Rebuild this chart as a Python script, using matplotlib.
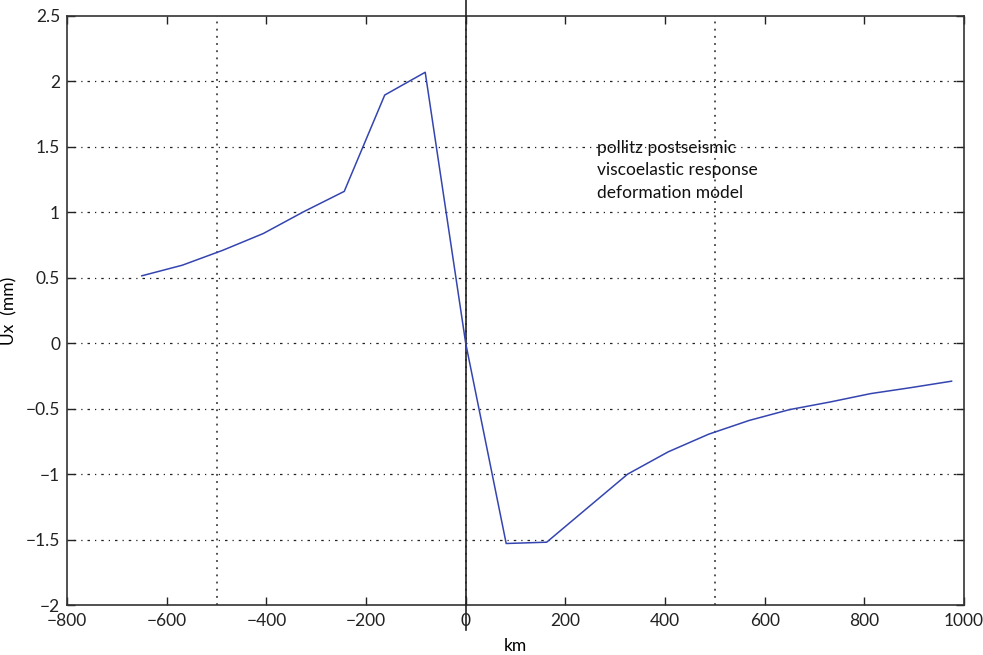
import numpy as np
import matplotlib
matplotlib.use("Agg")
import matplotlib.pyplot as plt

# distance along profile (km) and modelled horizontal displacement (mm)
km = [-650, -568.75, -487.5, -406.25, -325, -243.75, -162.5, -81.25, 0,
      81.25, 162.5, 243.75, 325, 406.25, 487.5, 568.75, 650, 731.25,
      812.5, 893.75, 975]
ux = [0.515, 0.596, 0.71, 0.838, 1.005, 1.16, 1.896, 2.07, 0.0,
      -1.53, -1.52, -1.26, -1.0, -0.83, -0.695, -0.59, -0.507, -0.449,
      -0.385, -0.339, -0.29]

xticks = [-800, -600, -400, -200, 0, 200, 400, 600, 800, 1000]
yticks = [-2, -1.5, -1, -0.5, 0, 0.5, 1, 1.5, 2, 2.5]
vgrid = [-500, 0, 500]
note = "pollitz postseismic\nviscoelastic response\ndeformation model"

plt.rcParams['font.family'] = ['Lato', 'DejaVu Sans']
plt.rcParams['axes.unicode_minus'] = True

fig = plt.figure(figsize=(9.83, 6.55), dpi=100, facecolor='white')
ax = fig.add_axes([0.0682, 0.0763, 0.9125, 0.8993])

# grid: horizontal at every y tick, vertical only at -500, 0, 500
for y in yticks[1:-1]:
    ax.axhline(y, color='#222222', lw=0.9, ls=(0, (1, 4, 2, 4)), zorder=1)
for x in vgrid:
    ax.axvline(x, color='#222222', lw=1.1, ls=(0, (1.2, 3.5)), zorder=1)

# solid vertical line through the origin, sticking out of the axes
ax.plot([0, 0], [-2.19, 2.7], color='#222222', lw=1.2, clip_on=False, zorder=3)

ax.plot(km, ux, color='#3545b0', lw=1.1, zorder=4)

ax.text(263, 1.32, note, fontsize=12.5, va='center', ha='left',
        linespacing=1.5, color='#111111')

ax.set_xlim(-800, 1000)
ax.set_ylim(-2, 2.5)
ax.set_xticks(xticks)
ax.set_yticks(yticks)
ax.set_yticklabels(['\u22122', '\u22121.5', '\u22121', '\u22120.5', '0',
                    '0.5', '1', '1.5', '2', '2.5'])
ax.set_xticklabels(['\u2212800', '\u2212600', '\u2212400', '\u2212200', '0',
                    '200', '400', '600', '800', '1000'])
ax.tick_params(direction='in', length=6, width=1, top=True, right=True,
               labelsize=12.5, colors='#222222')
ax.tick_params(axis='x', pad=6)
ax.tick_params(axis='y', pad=5)
for s in ax.spines.values():
    s.set_color('#333333')
    s.set_linewidth(1.2)

ax.set_xlabel('km', fontsize=12.5, labelpad=6)
ax.set_ylabel('Ux  (mm)', fontsize=12.5, labelpad=6)

fig.savefig('out.png', dpi=100)
